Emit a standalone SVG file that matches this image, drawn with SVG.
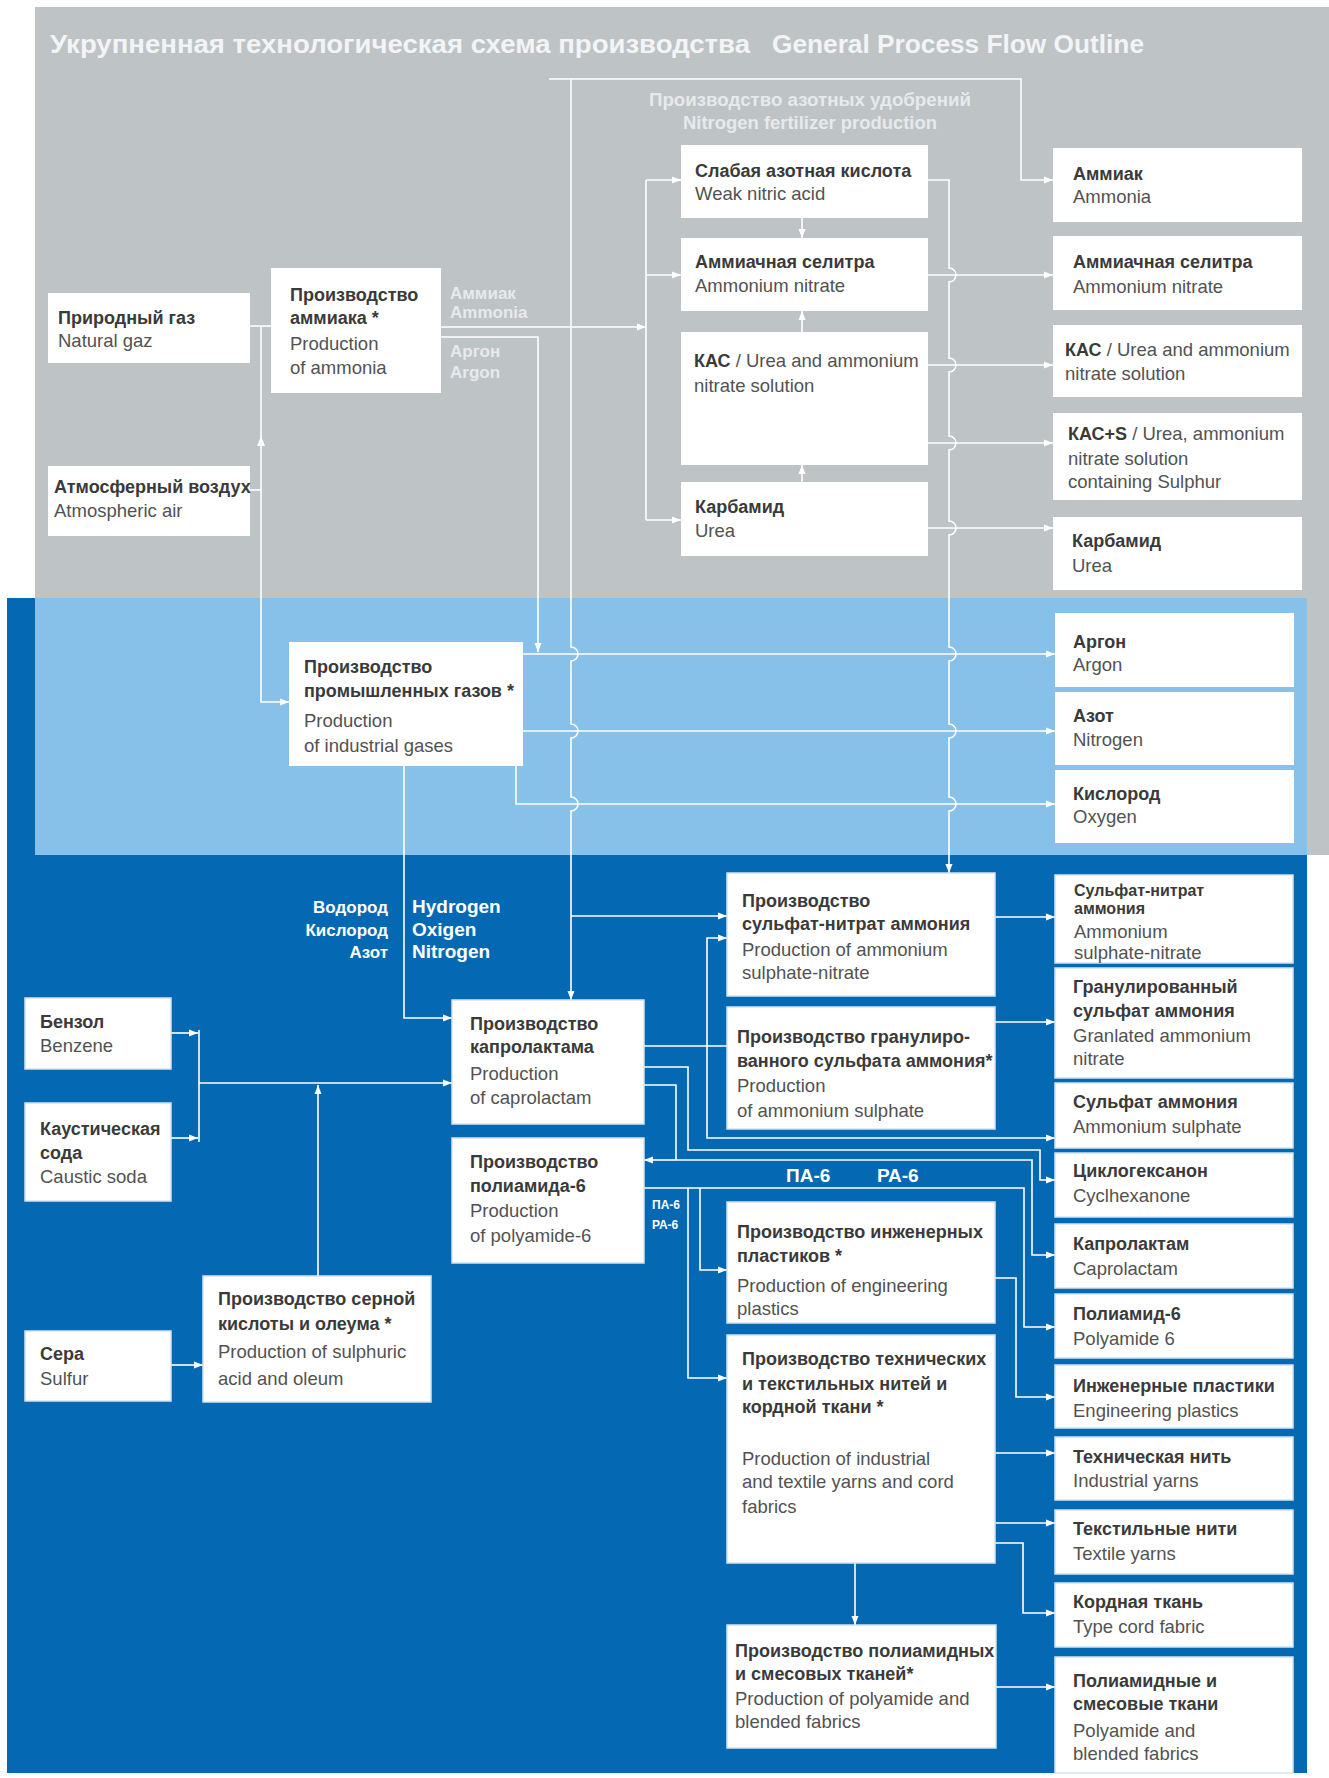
<svg xmlns="http://www.w3.org/2000/svg" width="1329" height="1778" viewBox="0 0 1329 1778">
<style>
.bx{fill:#ffffff}
.bd{fill:#ffffff;stroke:#d4e3f0;stroke-width:1.5}
.ru{font-family:"Liberation Sans",Arial,sans-serif;font-weight:bold;font-size:18px;fill:#3a3a3a}
.en{font-family:"Liberation Sans",Arial,sans-serif;font-size:18.5px;fill:#525252}
.c{fill:none;stroke:#ffffff;stroke-width:1.6}
.a{marker-end:url(#ah)}
.lg{font-family:"Liberation Sans",Arial,sans-serif;font-weight:bold;font-size:17px;fill:#e6eaec}
.wt{font-family:"Liberation Sans",Arial,sans-serif;font-weight:bold;font-size:18px;fill:#ffffff}
.ttl{font-family:"Liberation Sans",Arial,sans-serif;font-weight:bold;font-size:26px;fill:#f2f4f5}
</style>
<defs>
<marker id="ah" markerUnits="userSpaceOnUse" markerWidth="10" markerHeight="8" refX="9" refY="4" orient="auto">
<path d="M0,0.5 L9,4 L0,7.5 z" fill="#ffffff"/>
</marker>
</defs>
<rect width="1329" height="1778" fill="#ffffff"/>
<g id="backgrounds">
<rect x="35" y="7" width="1294" height="848" fill="#bec3c6"/>
<rect x="7" y="598" width="1300" height="1175" fill="#0568b3"/>
<rect x="35" y="598" width="1272" height="257" fill="#87c0e9"/>
</g>
<g id="title">
<text x="50" y="53" class="ttl" textLength="700" lengthAdjust="spacingAndGlyphs">Укрупненная технологическая схема производства</text>
<text x="772" y="53" class="ttl" textLength="372" lengthAdjust="spacingAndGlyphs">General Process Flow Outline</text>
<text x="810" y="106" class="lg" style="font-size:18px" text-anchor="middle" textLength="322" lengthAdjust="spacingAndGlyphs">Производство азотных удобрений</text>
<text x="810" y="129" class="lg" style="font-size:18px" text-anchor="middle" textLength="254" lengthAdjust="spacingAndGlyphs">Nitrogen fertilizer production</text>
</g>
<g id="connectors">
<path class="c" d="M250,326 H271"/>
<path class="c a" d="M261,326 V702 H289"/>
<path class="c" d="M250,490 H261"/>
<polygon points="261,436 257,446 265,446" fill="#ffffff"/>
<path class="c a" d="M441,327 H646"/>
<path class="c a" d="M441,337 H538 V652"/>
<path class="c a" d="M549,79 H1021 V180 H1053"/>
<path class="c a" d="M571,79 V647 A7,7 0 0 1 571,661 V724 A7,7 0 0 1 571,738 V797 A7,7 0 0 1 571,811 V1000"/>
<path class="c" d="M646,180 V520"/>
<path class="c a" d="M646,180 H681"/>
<path class="c a" d="M646,275 H681"/>
<path class="c a" d="M646,520 H681"/>
<path class="c a" d="M802,218 V238"/>
<path class="c a" d="M802,332 V311"/>
<path class="c a" d="M802,482 V465"/>
<path class="c a" d="M928,180 H949 V268 A7,7 0 0 1 949,282 V358 A7,7 0 0 1 949,372 V436 A7,7 0 0 1 949,450 V521 A7,7 0 0 1 949,535 V647 A7,7 0 0 1 949,661 V724 A7,7 0 0 1 949,738 V797 A7,7 0 0 1 949,811 V873"/>
<path class="c a" d="M928,275 H1053"/>
<path class="c a" d="M928,365 H1053"/>
<path class="c a" d="M928,443 H1053"/>
<path class="c a" d="M928,528 H1053"/>
<path class="c a" d="M523,654 H1055"/>
<path class="c a" d="M523,731 H1055"/>
<path class="c a" d="M516,766 V804 H1055"/>
<path class="c a" d="M404,766 V1018 H452"/>
<path class="c a" d="M571,916 H727"/>
<path class="c a" d="M171,1033 H198"/>
<path class="c a" d="M171,1138 H198"/>
<path class="c" d="M199,1030 V1142"/>
<path class="c a" d="M199,1083 H452"/>
<path class="c a" d="M318,1276 V1085"/>
<path class="c a" d="M171,1365 H203"/>
<path class="c a" d="M995,917 H1055"/>
<path class="c a" d="M995,1022 H1055"/>
<path class="c" d="M644,1046 H727"/>
<path class="c a" d="M707,1046 V938 H727"/>
<path class="c a" d="M707,1046 V1138 H1055"/>
<path class="c a" d="M644,1067 H688 V1150 H1040 V1180 H1055"/>
<path class="c" d="M644,1085 H676 V1160"/>
<path class="c a" d="M676,1160 H644"/>
<path class="c a" d="M676,1160 H1032 V1255 H1055"/>
<path class="c a" d="M644,1188 H1024 V1327 H1055"/>
<path class="c a" d="M700,1188 V1270 H727"/>
<path class="c a" d="M688,1188 V1378 H727"/>
<path class="c a" d="M995,1278 H1016 V1397 H1055"/>
<path class="c a" d="M995,1453 H1055"/>
<path class="c a" d="M995,1523 H1055"/>
<path class="c a" d="M995,1543 H1023 V1613 H1055"/>
<path class="c a" d="M855,1563 V1625"/>
<path class="c a" d="M996,1687 H1055"/>
</g>
<g id="flow-labels">
<text x="450" y="299" class="lg">Аммиак</text>
<text x="450" y="318" class="lg">Ammonia</text>
<text x="450" y="357" class="lg">Аргон</text>
<text x="450" y="378" class="lg">Argon</text>
<text x="388" y="913" class="wt" style="font-size:17px" text-anchor="end">Водород</text>
<text x="388" y="936" class="wt" style="font-size:17px" text-anchor="end">Кислород</text>
<text x="388" y="958" class="wt" style="font-size:17px" text-anchor="end">Азот</text>
<text x="412" y="913" class="wt" style="font-size:19px">Hydrogen</text>
<text x="412" y="936" class="wt" style="font-size:19px">Oxigen</text>
<text x="412" y="958" class="wt" style="font-size:19px">Nitrogen</text>
<text x="786" y="1182" class="wt" style="font-size:19px">ПА-6</text>
<text x="877" y="1182" class="wt" style="font-size:19px">РА-6</text>
<text x="652" y="1209" class="wt" style="font-size:12px">ПА-6</text>
<text x="652" y="1229" class="wt" style="font-size:12px">РА-6</text>
</g>
<g id="n-natgas"><rect class="bx" x="48" y="293" width="202" height="70"/><text class="ru" x="58" y="324">Природный газ</text><text class="en" x="58" y="347">Natural gaz</text></g>
<g id="n-ammonia-prod"><rect class="bx" x="271" y="268" width="170" height="125"/><text class="ru" x="290" y="301">Производство</text><text class="ru" x="290" y="324">аммиака *</text><text class="en" x="290" y="350">Production</text><text class="en" x="290" y="374">of  ammonia</text></g>
<g id="n-air"><rect class="bx" x="48" y="466" width="202" height="70"/><text class="ru" x="54" y="493">Атмосферный воздух</text><text class="en" x="54" y="517">Atmospheric air</text></g>
<g id="n-weak-acid"><rect class="bx" x="681" y="145" width="247" height="73"/><text class="ru" x="695" y="177">Слабая азотная кислота</text><text class="en" x="695" y="200">Weak nitric acid</text></g>
<g id="n-an-mid"><rect class="bx" x="681" y="238" width="247" height="73"/><text class="ru" x="695" y="268">Аммиачная селитра</text><text class="en" x="695" y="292">Ammonium nitrate</text></g>
<g id="n-kas-mid"><rect class="bx" x="681" y="332" width="247" height="133"/><text class="en" x="694" y="367"><tspan class="ru">КАС</tspan> / Urea and ammonium</text><text class="en" x="694" y="392">nitrate solution</text></g>
<g id="n-urea-mid"><rect class="bx" x="681" y="482" width="247" height="74"/><text class="ru" x="695" y="513">Карбамид</text><text class="en" x="695" y="537">Urea</text></g>
<g id="n-ammonia"><rect class="bx" x="1053" y="148" width="249" height="74"/><text class="ru" x="1073" y="180">Аммиак</text><text class="en" x="1073" y="203">Ammonia</text></g>
<g id="n-an"><rect class="bx" x="1053" y="236" width="249" height="74"/><text class="ru" x="1073" y="268">Аммиачная селитра</text><text class="en" x="1073" y="293">Ammonium nitrate</text></g>
<g id="n-kas"><rect class="bx" x="1053" y="325" width="249" height="72"/><text class="en" x="1065" y="356"><tspan class="ru">КАС</tspan> / Urea and ammonium</text><text class="en" x="1065" y="380">nitrate solution</text></g>
<g id="n-kas-s"><rect class="bx" x="1053" y="413" width="249" height="87"/><text class="en" x="1068" y="440"><tspan class="ru">КАС+S</tspan> / Urea, ammonium</text><text class="en" x="1068" y="465">nitrate solution</text><text class="en" x="1068" y="488">containing Sulphur</text></g>
<g id="n-urea"><rect class="bx" x="1053" y="517" width="249" height="73"/><text class="ru" x="1072" y="547">Карбамид</text><text class="en" x="1072" y="572">Urea</text></g>
<g id="n-ind-gases"><rect class="bx" x="289" y="642" width="234" height="124"/><text class="ru" x="304" y="673">Производство</text><text class="ru" x="304" y="697">промышленных газов *</text><text class="en" x="304" y="727">Production</text><text class="en" x="304" y="752">of industrial gases</text></g>
<g id="n-argon"><rect class="bx" x="1055" y="613" width="239" height="74"/><text class="ru" x="1073" y="648">Аргон</text><text class="en" x="1073" y="671">Argon</text></g>
<g id="n-nitrogen"><rect class="bx" x="1055" y="692" width="239" height="73"/><text class="ru" x="1073" y="722">Азот</text><text class="en" x="1073" y="746">Nitrogen</text></g>
<g id="n-oxygen"><rect class="bx" x="1055" y="770" width="239" height="73"/><text class="ru" x="1073" y="800">Кислород</text><text class="en" x="1073" y="823">Oxygen</text></g>
<g id="n-benzene"><rect class="bd" x="25" y="998" width="146" height="71"/><text class="ru" x="40" y="1028">Бензол</text><text class="en" x="40" y="1052">Benzene</text></g>
<g id="n-caustic"><rect class="bd" x="25" y="1103" width="146" height="98"/><text class="ru" x="40" y="1135">Каустическая</text><text class="ru" x="40" y="1159">сода</text><text class="en" x="40" y="1183">Caustic soda</text></g>
<g id="n-sulfur"><rect class="bd" x="25" y="1331" width="146" height="70"/><text class="ru" x="40" y="1360">Сера</text><text class="en" x="40" y="1385">Sulfur</text></g>
<g id="n-sulphuric"><rect class="bd" x="203" y="1276" width="228" height="126"/><text class="ru" x="218" y="1305">Производство серной</text><text class="ru" x="218" y="1330">кислоты и олеума *</text><text class="en" x="218" y="1358">Production of sulphuric</text><text class="en" x="218" y="1385">acid and oleum</text></g>
<g id="n-capro-prod"><rect class="bd" x="452" y="1000" width="192" height="124"/><text class="ru" x="470" y="1030">Производство</text><text class="ru" x="470" y="1053">капролактама</text><text class="en" x="470" y="1080">Production</text><text class="en" x="470" y="1104">of caprolactam</text></g>
<g id="n-pa6-prod"><rect class="bd" x="452" y="1138" width="192" height="125"/><text class="ru" x="470" y="1168">Производство</text><text class="ru" x="470" y="1192">полиамида-6</text><text class="en" x="470" y="1217">Production</text><text class="en" x="470" y="1242">of polyamide-6</text></g>
<g id="n-asn-prod"><rect class="bd" x="727" y="873" width="268" height="123"/><text class="ru" x="742" y="907">Производство</text><text class="ru" x="742" y="930">сульфат-нитрат аммония</text><text class="en" x="742" y="956">Production of ammonium</text><text class="en" x="742" y="979">sulphate-nitrate</text></g>
<g id="n-gas-prod"><rect class="bd" x="727" y="1007" width="268" height="122"/><text class="ru" x="737" y="1043">Производство гранулиро-</text><text class="ru" x="737" y="1067">ванного сульфата аммония*</text><text class="en" x="737" y="1092">Production</text><text class="en" x="737" y="1117">of ammonium sulphate</text></g>
<g id="n-eng-prod"><rect class="bd" x="727" y="1202" width="268" height="121"/><text class="ru" x="737" y="1238">Производство инженерных</text><text class="ru" x="737" y="1262">пластиков *</text><text class="en" x="737" y="1292">Production of engineering</text><text class="en" x="737" y="1315">plastics</text></g>
<g id="n-yarn-prod"><rect class="bd" x="727" y="1335" width="268" height="228"/><text class="ru" x="742" y="1365">Производство технических</text><text class="ru" x="742" y="1390">и текстильных нитей и</text><text class="ru" x="742" y="1413">кордной ткани *</text><text class="en" x="742" y="1465">Production of industrial</text><text class="en" x="742" y="1488">and textile yarns and cord</text><text class="en" x="742" y="1513">fabrics</text></g>
<g id="n-fabric-prod"><rect class="bd" x="727" y="1625" width="269" height="123"/><text class="ru" x="735" y="1657">Производство полиамидных</text><text class="ru" x="735" y="1680">и смесовых тканей*</text><text class="en" x="735" y="1705">Production of polyamide and</text><text class="en" x="735" y="1728">blended fabrics</text></g>
<g id="n-asn"><rect class="bd" x="1055" y="875" width="238" height="88"/><text class="ru" x="1074" y="896" style="font-size:16px">Сульфат-нитрат</text><text class="ru" x="1074" y="914" style="font-size:16px">аммония</text><text class="en" x="1074" y="938">Ammonium</text><text class="en" x="1074" y="959">sulphate-nitrate</text></g>
<g id="n-gas"><rect class="bd" x="1055" y="968" width="238" height="110"/><text class="ru" x="1073" y="993">Гранулированный</text><text class="ru" x="1073" y="1017">сульфат аммония</text><text class="en" x="1073" y="1042">Granlated ammonium</text><text class="en" x="1073" y="1065">nitrate</text></g>
<g id="n-as"><rect class="bd" x="1055" y="1083" width="238" height="65"/><text class="ru" x="1073" y="1108">Сульфат аммония</text><text class="en" x="1073" y="1133">Ammonium sulphate</text></g>
<g id="n-cyclo"><rect class="bd" x="1055" y="1153" width="238" height="64"/><text class="ru" x="1073" y="1177">Циклогексанон</text><text class="en" x="1073" y="1202">Cyclhexanone</text></g>
<g id="n-capro"><rect class="bd" x="1055" y="1224" width="238" height="64"/><text class="ru" x="1073" y="1250">Капролактам</text><text class="en" x="1073" y="1275">Caprolactam</text></g>
<g id="n-pa6"><rect class="bd" x="1055" y="1294" width="238" height="64"/><text class="ru" x="1073" y="1320">Полиамид-6</text><text class="en" x="1073" y="1345">Polyamide 6</text></g>
<g id="n-eng"><rect class="bd" x="1055" y="1365" width="238" height="63"/><text class="ru" x="1073" y="1392">Инженерные пластики</text><text class="en" x="1073" y="1417">Engineering plastics</text></g>
<g id="n-ind-yarn"><rect class="bd" x="1055" y="1437" width="238" height="63"/><text class="ru" x="1073" y="1463">Техническая нить</text><text class="en" x="1073" y="1487">Industrial yarns</text></g>
<g id="n-tex-yarn"><rect class="bd" x="1055" y="1510" width="238" height="64"/><text class="ru" x="1073" y="1535">Текстильные нити</text><text class="en" x="1073" y="1560">Textile yarns</text></g>
<g id="n-cord"><rect class="bd" x="1055" y="1583" width="238" height="64"/><text class="ru" x="1073" y="1608">Кордная ткань</text><text class="en" x="1073" y="1633">Type cord fabric</text></g>
<g id="n-fabrics"><rect class="bd" x="1055" y="1657" width="238" height="116"/><text class="ru" x="1073" y="1687">Полиамидные и</text><text class="ru" x="1073" y="1710">смесовые ткани</text><text class="en" x="1073" y="1737">Polyamide and</text><text class="en" x="1073" y="1760">blended fabrics</text></g>
</svg>
